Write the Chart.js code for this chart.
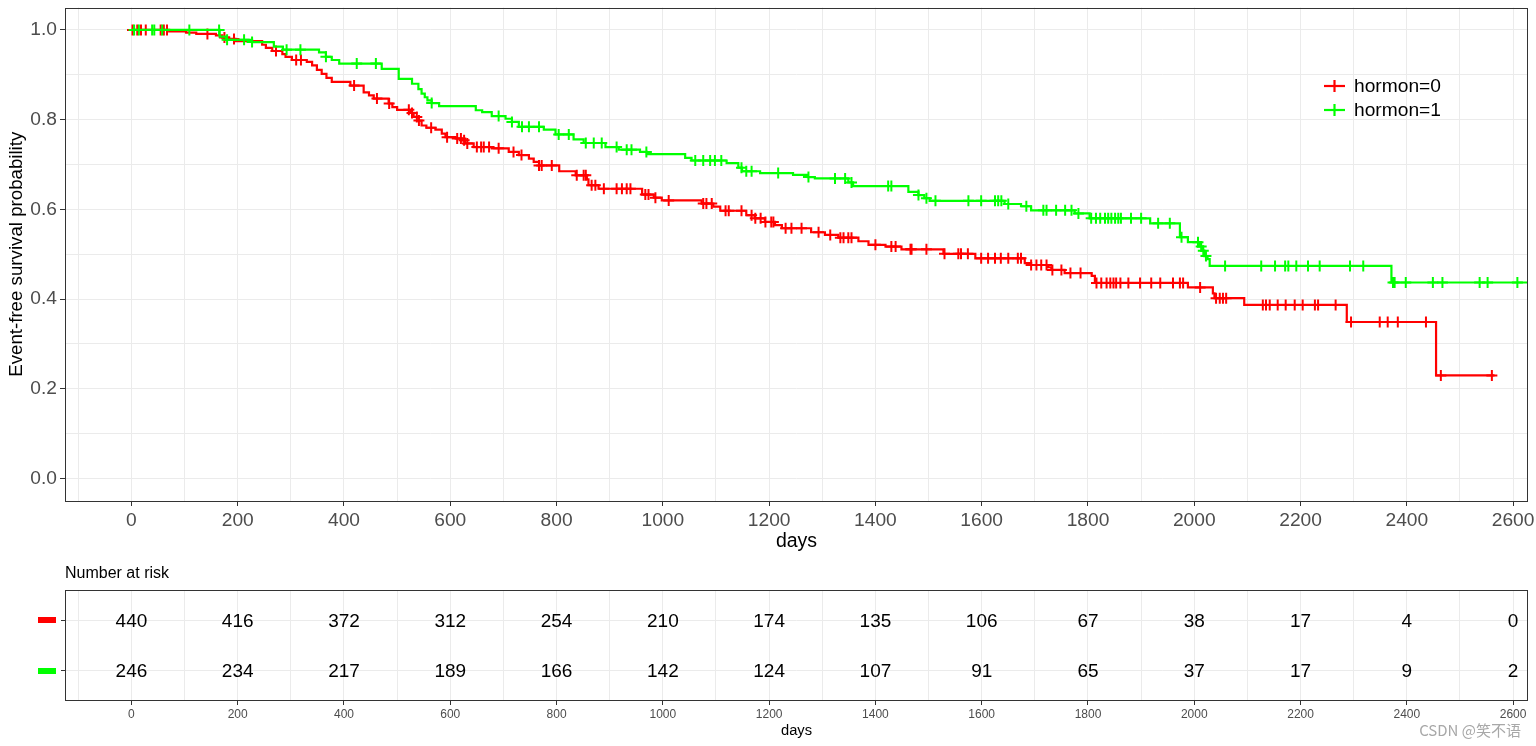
<!DOCTYPE html>
<html>
<head>
<meta charset="utf-8">
<script src="https://cdn.jsdelivr.net/npm/chart.js@4.4.1/dist/chart.umd.min.js"></script>
<style>
  html, body { margin: 0; padding: 0; background: #ffffff; }
  #wrap { position: relative; width: 1536px; height: 746px; overflow: hidden; }
  canvas { position: absolute; left: 0; }
  #wm { position: absolute; right: 15px; top: 719px; font: 15px "Noto Sans CJK SC", "Liberation Sans", sans-serif; color: #a8a8a8; }
</style>
</head>
<body>
<div id="wrap">
  <canvas id="main" width="1536" height="560" style="top:0"></canvas>
  <canvas id="risk" width="1536" height="186" style="top:560px"></canvas>
  <div id="wm">CSDN @笑不语</div>
</div>
<script>
// ---------------- DATA ----------------
const groupLabels = ["hormon=0", "hormon=1"];
const groupColors = ["#FF0000", "#00FF00"];

// Kaplan-Meier steps, hormon=0 (time in days, survival after that time)
const h0Time = [0,71,103,122,159,171,184,196,246,253,265,284,290,302,330,340,349,358,367,377,412,437,447,456,484,491,500,525,531,540,546,555,572,584,591,610,622,628,644,678,710,729,748,757,767,805,836,857,860,879,961,983,998,1073,1095,1108,1157,1173,1192,1211,1224,1279,1305,1330,1368,1387,1419,1449,1528,1588,1681,1693,1725,1731,1756,1807,1813,1988,2035,2038,2094,2287,2455,2565];
const h0Surv = [1.0,0.997,0.994,0.991,0.988,0.983,0.980,0.975,0.967,0.960,0.953,0.946,0.940,0.933,0.929,0.921,0.911,0.902,0.893,0.884,0.876,0.861,0.854,0.847,0.836,0.828,0.822,0.815,0.806,0.798,0.787,0.782,0.778,0.769,0.761,0.758,0.754,0.747,0.739,0.736,0.728,0.721,0.713,0.706,0.698,0.685,0.676,0.667,0.654,0.646,0.633,0.626,0.620,0.613,0.606,0.597,0.587,0.580,0.572,0.565,0.558,0.549,0.543,0.537,0.529,0.521,0.517,0.511,0.501,0.491,0.480,0.476,0.471,0.465,0.458,0.452,0.436,0.426,0.413,0.402,0.387,0.349,0.230,0.230];
const h0Censor = [2,11,18,27,55,61,67,143,175,193,272,310,319,419,462,485,522,528,537,541,564,594,613,620,626,632,650,658,663,673,691,719,734,767,772,791,838,851,855,866,873,889,913,923,932,939,967,973,986,1011,1076,1082,1092,1118,1124,1148,1167,1174,1184,1193,1204,1208,1231,1242,1261,1293,1315,1334,1340,1349,1355,1400,1430,1438,1466,1468,1496,1530,1556,1561,1574,1599,1612,1625,1636,1650,1668,1674,1693,1703,1712,1722,1733,1750,1767,1786,1816,1825,1835,1842,1848,1853,1861,1876,1898,1919,1936,1960,1973,1979,2011,2041,2048,2054,2060,2129,2135,2142,2157,2172,2189,2204,2227,2233,2266,2295,2349,2364,2383,2436,2464,2560];

// Kaplan-Meier steps, hormon=1
const h1Time = [0,166,178,227,268,285,353,366,377,391,471,503,528,540,546,552,557,565,579,648,660,678,704,716,729,776,798,832,851,892,917,957,970,1042,1054,1120,1142,1149,1183,1245,1273,1286,1349,1358,1462,1481,1492,1502,1643,1674,1693,1775,1803,1917,1973,1988,2011,2016,2019,2025,2029,2371,2640];
const h1Surv = [1.0,0.985,0.978,0.973,0.963,0.956,0.950,0.940,0.933,0.925,0.913,0.891,0.880,0.868,0.858,0.850,0.843,0.837,0.830,0.821,0.817,0.808,0.802,0.795,0.784,0.778,0.767,0.756,0.748,0.739,0.733,0.728,0.723,0.715,0.709,0.703,0.693,0.685,0.681,0.677,0.672,0.669,0.660,0.652,0.639,0.632,0.625,0.619,0.612,0.607,0.598,0.591,0.580,0.569,0.538,0.527,0.517,0.508,0.496,0.489,0.474,0.437,0.437];
const h1Censor = [5,14,39,43,58,109,165,180,212,227,292,318,366,424,460,565,691,716,735,748,767,804,823,855,870,885,913,932,941,969,1061,1076,1089,1098,1110,1148,1157,1167,1217,1274,1324,1343,1355,1424,1430,1481,1496,1513,1575,1599,1625,1631,1637,1650,1684,1716,1722,1740,1757,1769,1782,1806,1815,1823,1832,1838,1844,1851,1857,1862,1881,1900,1932,1954,1976,2007,2013,2017,2022,2058,2126,2152,2171,2177,2192,2214,2236,2293,2318,2374,2377,2398,2449,2467,2537,2552,2608];

// Number at risk table
const riskTimes = [0,200,400,600,800,1000,1200,1400,1600,1800,2000,2200,2400,2600];
const riskH0 = [440,416,372,312,254,210,174,135,106,67,38,17,4,0];
const riskH1 = [246,234,217,189,166,142,124,107,91,65,37,17,9,2];

// Axes
const xGridValues = [-100,0,100,200,300,400,500,600,700,800,900,1000,1100,1200,1300,1400,1500,1600,1700,1800,1900,2000,2100,2200,2300,2400,2500,2600];
const xLabelValues = [0,200,400,600,800,1000,1200,1400,1600,1800,2000,2200,2400,2600];
const yGridValues = [0,0.1,0.2,0.3,0.4,0.5,0.6,0.7,0.8,0.9,1.0];
const yLabelValues = [0,0.2,0.4,0.6,0.8,1.0];

// ---------------- HELPERS ----------------
const FONT = '"Liberation Sans", Arial, sans-serif';
function stepPoints(times, surv) { return times.map((t, i) => ({ x: t, y: surv[i] })); }
function survAt(times, surv, t) {
  let v = surv[0];
  for (let i = 0; i < times.length; i++) { if (times[i] <= t) v = surv[i]; }
  return v;
}
function censorPoints(ct, times, surv) { return ct.map(t => ({ x: t, y: survAt(times, surv, t) })); }
const isLabelX = v => xLabelValues.some(l => Math.abs(l - v) < 1e-6);
const isLabelY = v => yLabelValues.some(l => Math.abs(l - v) < 1e-6);
function noPad(s) { s.paddingTop = 0; s.paddingBottom = 0; s.paddingLeft = 0; s.paddingRight = 0; }

const panelBorder = {
  id: 'panelBorder',
  afterDraw(chart) {
    const { ctx, chartArea: a } = chart;
    ctx.save();
    ctx.strokeStyle = '#333333';
    ctx.lineWidth = 1;
    ctx.strokeRect(Math.round(a.left) + 0.5, Math.round(a.top) + 0.5, Math.round(a.right - a.left) - 1, Math.round(a.bottom - a.top) - 1);
    ctx.restore();
  }
};

const legendPlugin = {
  id: 'kmLegend',
  afterDraw(chart) {
    const { ctx } = chart;
    ctx.save();
    const rows = [86, 110];
    rows.forEach((y, i) => {
      ctx.strokeStyle = groupColors[i];
      ctx.lineWidth = 2.2;
      ctx.beginPath(); ctx.moveTo(1324, y); ctx.lineTo(1345, y); ctx.stroke();
      ctx.beginPath(); ctx.moveTo(1334.5, y - 6); ctx.lineTo(1334.5, y + 6); ctx.stroke();
      ctx.fillStyle = '#000000';
      ctx.font = '19.2px ' + FONT;
      ctx.textAlign = 'left';
      ctx.textBaseline = 'middle';
      ctx.fillText(groupLabels[i], 1354, y + 1);
    });
    ctx.restore();
  }
};

// ---------------- MAIN CHART ----------------
new Chart(document.getElementById('main'), {
  type: 'line',
  data: {
    datasets: [
      { label: groupLabels[1], data: stepPoints(h1Time, h1Surv), borderColor: groupColors[1], borderWidth: 2.2, stepped: 'before', pointRadius: 0, fill: false, tension: 0 },
      { label: groupLabels[1] + ' censor', data: censorPoints(h1Censor, h1Time, h1Surv), showLine: false, pointStyle: 'cross', pointRadius: 5.5, pointBorderWidth: 2, borderColor: groupColors[1], backgroundColor: groupColors[1] },
      { label: groupLabels[0], data: stepPoints(h0Time, h0Surv), borderColor: groupColors[0], borderWidth: 2.2, stepped: 'before', pointRadius: 0, fill: false, tension: 0 },
      { label: groupLabels[0] + ' censor', data: censorPoints(h0Censor, h0Time, h0Surv), showLine: false, pointStyle: 'cross', pointRadius: 5.5, pointBorderWidth: 2, borderColor: groupColors[0], backgroundColor: groupColors[0] }
    ]
  },
  options: {
    responsive: false,
    animation: false,
    devicePixelRatio: 1,
    layout: { padding: { top: 7, right: 8, left: 0, bottom: 0 } },
    plugins: { legend: { display: false }, tooltip: { enabled: false } },
    scales: {
      x: {
        type: 'linear', min: -125, max: 2628,
        afterBuildTicks: s => { s.ticks = xGridValues.map(v => ({ value: v })); },
        afterFit: s => { s.height = 59; noPad(s); },
        ticks: { autoSkip: false, maxRotation: 0, padding: 3, color: '#4D4D4D', font: { family: FONT, size: 19.2 },
                 callback: v => isLabelX(v) ? String(v) : '' },
        grid: { color: '#EBEBEB', lineWidth: 1, tickLength: 5, tickWidth: 1,
                tickColor: c => (c.tick && isLabelX(c.tick.value)) ? '#333333' : 'rgba(0,0,0,0)' },
        border: { display: false },
        title: { display: true, text: 'days', color: '#000000', font: { family: FONT, size: 19.5 }, padding: { top: 0, bottom: 7 } }
      },
      y: {
        type: 'linear', min: -0.05, max: 1.05,
        afterBuildTicks: s => { s.ticks = yGridValues.map(v => ({ value: v })); },
        afterFit: s => { s.width = 65; noPad(s); },
        ticks: { autoSkip: false, padding: 3, color: '#4D4D4D', font: { family: FONT, size: 19.2 },
                 callback: v => isLabelY(v) ? v.toFixed(1) : '' },
        grid: { color: '#EBEBEB', lineWidth: 1, tickLength: 5, tickWidth: 1,
                tickColor: c => (c.tick && isLabelY(c.tick.value)) ? '#333333' : 'rgba(0,0,0,0)' },
        border: { display: false },
        title: { display: true, text: 'Event-free survival probability', color: '#000000', font: { family: FONT, size: 18.7 }, padding: { top: 6, bottom: 0 } }
      }
    }
  },
  plugins: [panelBorder, legendPlugin]
});

// ---------------- RISK TABLE ----------------
const riskRows = [2, 1]; // y positions for hormon=0 (top) and hormon=1 (bottom)
const riskTextPlugin = {
  id: 'riskText',
  afterDatasetsDraw(chart) {
    const { ctx } = chart;
    ctx.save();
    ctx.font = '19px ' + FONT;
    ctx.fillStyle = '#000000';
    ctx.textAlign = 'center';
    ctx.textBaseline = 'middle';
    chart.data.datasets.forEach((ds, di) => {
      const meta = chart.getDatasetMeta(di);
      meta.data.forEach((pt, i) => { ctx.fillText(String(ds.counts[i]), pt.x, pt.y + 1); });
      const yPix = chart.scales.y.getPixelForValue(riskRows[di]);
      ctx.fillStyle = groupColors[di];
      ctx.fillRect(38, Math.round(yPix) - 3, 18, 6);
      ctx.fillStyle = '#000000';
    });
    ctx.font = '16px ' + FONT;
    ctx.textAlign = 'left';
    ctx.fillText('Number at risk', 65, 14);
    ctx.restore();
  }
};

new Chart(document.getElementById('risk'), {
  type: 'line',
  data: {
    datasets: [
      { label: groupLabels[0], counts: riskH0, data: riskTimes.map(t => ({ x: t, y: riskRows[0] })), showLine: false, pointRadius: 0 },
      { label: groupLabels[1], counts: riskH1, data: riskTimes.map(t => ({ x: t, y: riskRows[1] })), showLine: false, pointRadius: 0 }
    ]
  },
  options: {
    responsive: false,
    animation: false,
    devicePixelRatio: 1,
    layout: { padding: { top: 30, right: 8, left: 0, bottom: 0 } },
    plugins: { legend: { display: false }, tooltip: { enabled: false } },
    scales: {
      x: {
        type: 'linear', min: -125, max: 2628,
        afterBuildTicks: s => { s.ticks = xGridValues.map(v => ({ value: v })); },
        afterFit: s => { s.height = 45; noPad(s); },
        ticks: { autoSkip: false, maxRotation: 0, padding: 2, color: '#4D4D4D', font: { family: FONT, size: 12 },
                 callback: v => isLabelX(v) ? String(v) : '' },
        grid: { color: '#EBEBEB', lineWidth: 1, tickLength: 4, tickWidth: 1,
                tickColor: c => (c.tick && isLabelX(c.tick.value)) ? '#333333' : 'rgba(0,0,0,0)' },
        border: { display: false },
        title: { display: true, text: 'days', color: '#000000', font: { family: FONT, size: 14.7 }, padding: { top: 0, bottom: 6 } }
      },
      y: {
        type: 'linear', min: 0.4, max: 2.6,
        afterBuildTicks: s => { s.ticks = riskRows.map(v => ({ value: v })); },
        afterFit: s => { s.width = 65; noPad(s); },
        ticks: { padding: 2, callback: () => '' },
        grid: { color: '#EBEBEB', lineWidth: 1, tickLength: 4, tickColor: '#333333' },
        border: { display: false }
      }
    }
  },
  plugins: [panelBorder, riskTextPlugin]
});
</script>
</body>
</html>
